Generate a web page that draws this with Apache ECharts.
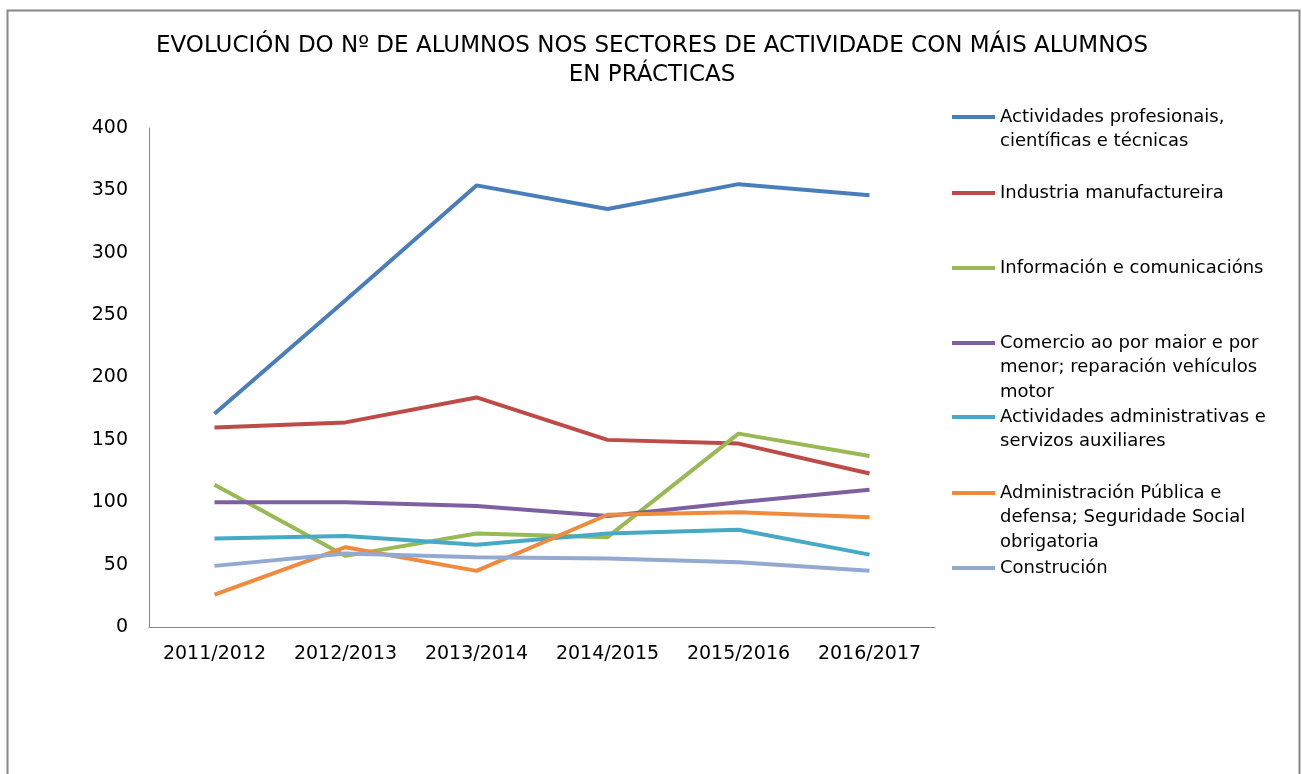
<!DOCTYPE html>
<html>
<head>
<meta charset="utf-8">
<script src="https://cdn.jsdelivr.net/npm/echarts@6/dist/echarts.min.js"></script>
<style>
  html, body { margin: 0; padding: 0; background: #fff; }
  #chart { width: 1302px; height: 774px; }
</style>
</head>
<body>
<div id="chart"></div>
<script>
// cursos
const years = ["2011/2012", "2012/2013", "2013/2014", "2014/2015", "2015/2016", "2016/2017"];

// nomes dos sectores (tal como aparecen na lenda)
const sectorNames = [
  "Actividades profesionais, científicas e técnicas",
  "Industria manufactureira",
  "Información e comunicacións",
  "Comercio ao por maior e por menor; reparación vehículos motor",
  "Actividades administrativas e servizos auxiliares",
  "Administración Pública e defensa; Seguridade Social obrigatoria",
  "Construción",
];
// cortes de liña na lenda
const legendLines = [
  ["Actividades profesionais,", "científicas e técnicas"],
  ["Industria manufactureira"],
  ["Información e comunicacións"],
  ["Comercio ao por maior e por", "menor; reparación vehículos", "motor"],
  ["Actividades administrativas e", "servizos auxiliares"],
  ["Administración Pública e", "defensa; Seguridade Social", "obrigatoria"],
  ["Construción"],
];

// valores por sector
const profesionais = [171, 262, 354, 335, 355, 346];
const manufactureira = [160, 164, 184, 150, 147, 123];
const comunicacions = [114, 57, 75, 72, 155, 137];
const comercio = [100, 100, 97, 89, 100, 110];
const administrativas = [71, 73, 66, 75, 78, 58];
const publica = [26, 64, 45, 90, 92, 88];
const construcion = [49, 59, 56, 55, 52, 45];

const seriesValues = [profesionais, manufactureira, comunicacions, comercio, administrativas, publica, construcion];
const colors = ["#4A7EBB", "#BE4B48", "#98B954", "#7D60A0", "#46AAC5", "#F08A3C", "#93A9D0"];

const FONT = "DejaVu Sans";
const legendFirstLineY = [117, 193, 268, 343, 417, 493, 568];
const LH = 24.5;

let chart = echarts.init(document.getElementById("chart"));

let legends = sectorNames.map((name, i) => {
  let lines = legendLines[i];
  // linhas en branco por riba para que o icono quede na primeira liña
  let pad = lines.length - 1;
  let text = new Array(pad).fill(" ").concat(lines).join("\n");
  let total = pad + lines.length;
  return {
    data: [name],
    left: 952,
    top: legendFirstLineY[i] - (total * LH) / 2,
    padding: 0,
    icon: "rect",
    itemWidth: 43,
    itemHeight: 4,
    formatter: () => text,
    selectedMode: false,
    textStyle: {
      fontFamily: FONT,
      fontSize: 18,
      color: "#000",
      lineHeight: LH,
    },
  };
});

let option = {
  animation: false,
  backgroundColor: "#fff",
  title: {
    text: "EVOLUCIÓN DO Nº DE ALUMNOS NOS SECTORES DE ACTIVIDADE CON MÁIS ALUMNOS\nEN PRÁCTICAS",
    left: 652,
    top: 32,
    padding: 0,
    textAlign: "center",
    textStyle: {
      fontFamily: FONT,
      fontSize: 23,
      fontWeight: "normal",
      color: "#000",
      lineHeight: 29,
    },
  },
  graphic: [
    {
      type: "rect",
      shape: { x: 7.5, y: 10.5, width: 1292, height: 800 },
      style: { fill: "none", stroke: "#888", lineWidth: 2 },
      silent: true,
    },
  ],
  legend: legends,
  grid: {
    left: 149,
    top: 128,
    right: 367,
    bottom: 147,
  },
  xAxis: {
    type: "category",
    data: years,
    boundaryGap: true,
    axisLine: { lineStyle: { color: "#868686", width: 1 } },
    axisTick: { show: false },
    axisLabel: {
      interval: 0,
      fontFamily: FONT,
      fontSize: 19,
      color: "#000",
      margin: 18,
    },
  },
  yAxis: {
    type: "value",
    min: 0,
    max: 400,
    interval: 50,
    splitLine: { show: false },
    axisLine: { show: true, lineStyle: { color: "#868686", width: 1 } },
    axisTick: { show: false },
    axisLabel: {
      fontFamily: FONT,
      fontSize: 19,
      color: "#000",
      margin: 21,
    },
  },
  series: sectorNames.map((name, i) => ({
    name: name,
    type: "line",
    data: seriesValues[i],
    symbol: "none",
    lineStyle: { color: colors[i], width: 4 },
    itemStyle: { color: colors[i] },
  })),
};

chart.setOption(option);
</script>
</body>
</html>
